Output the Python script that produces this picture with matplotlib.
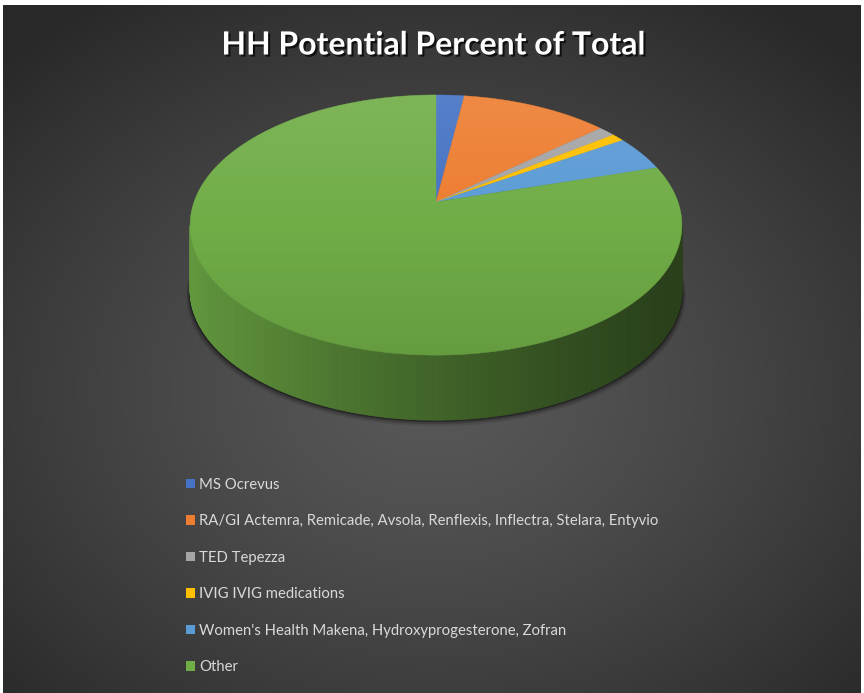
import numpy as np
import matplotlib
matplotlib.use('Agg')
import matplotlib.pyplot as plt
from matplotlib.patches import Polygon, Patch
import matplotlib.patheffects as pe
from matplotlib.colors import to_rgb

categories = ["MS Ocrevus",
              "RA/GI Actemra, Remicade, Avsola, Renflexis, Inflectra, Stelara, Entyvio",
              "TED Tepezza",
              "IVIG IVIG medications",
              "Women's Health Makena, Hydroxyprogesterone, Zofran",
              "Other"]
values = [2.2, 11.5, 1.3, 1.0, 4.4, 79.6]
colors = ["#4472C4", "#ED7D31", "#A5A5A5", "#FFC000", "#5B9BD5", "#70AD47"]
title = "HH Potential Percent of Total"

W, H = 864, 693
fig = plt.figure(figsize=(W / 100, H / 100), dpi=100)
fig.patch.set_facecolor('white')
ax = fig.add_axes([0, 0, 1, 1])
ax.set_xlim(0, W)
ax.set_ylim(H, 0)
ax.axis('off')

# ---- background radial gradient
L, R, T, Bm = 3, 861, 5, 693
yy, xx = np.mgrid[T:Bm, L:R]
rr = np.sqrt(((xx - 432) / 600.0) ** 2 + ((yy - 390) / 470.0) ** 2)
rr = np.clip(rr, 0, 1)
g = 0.345 + (0.16 - 0.345) * rr ** 1.3
ax.imshow(np.dstack([g, g, g]), extent=(L, R, Bm, T), origin='upper',
          aspect='auto', zorder=0, interpolation='bilinear')

# ---- 3D pie geometry (perspective projection of a tilted disk)
cx, cy = 436.0, 202.0
A, B, p = 242.0, 126.0, 0.177
depth = 65.0


def proj(t, dz=0.0):
    u, v = np.sin(t), np.cos(t)
    w = 1 + p * v
    return cx + A * u / w, cy - B * v / w + dz


vals = np.array(values, dtype=float)
frac = vals / vals.sum()
edges = np.concatenate([[0], np.cumsum(frac)]) * 2 * np.pi

# shadow under the pie
tt = np.linspace(0, 2 * np.pi, 400)
for k, a in [(6, 0.10), (4, 0.18), (2, 0.35)]:
    sx, sy = proj(tt, depth + k)
    sx = cx + (sx - cx) * (1 + k / 400.0)
    ax.add_patch(Polygon(np.column_stack([sx, sy]), closed=True,
                         facecolor='black', edgecolor='none', alpha=a, zorder=1))

# side walls
t_lo = np.arccos(-p)
t_hi = 2 * np.pi - t_lo
for i, col in enumerate(colors):
    a0, a1 = max(edges[i], t_lo), min(edges[i + 1], t_hi)
    if a1 <= a0:
        continue
    n = max(2, int((a1 - a0) / (2 * np.pi) * 600))
    ts = np.linspace(a0, a1, n + 1)
    base = np.array(to_rgb(col))
    for j in range(n):
        tq = np.array([ts[j], ts[j + 1]])
        x_top, y_top = proj(tq)
        x_bot, y_bot = proj(tq[::-1], depth)
        xm = (x_top.mean() - cx) / A
        f = 0.62 - 0.25 * np.clip(xm, -1, 1) - 0.04 * (1 - xm ** 2)
        c = np.clip(base * f, 0, 1)
        poly = np.column_stack([np.concatenate([x_top, x_bot]),
                                np.concatenate([y_top, y_bot])])
        ax.add_patch(Polygon(poly, closed=True, facecolor=c, edgecolor=c,
                             linewidth=0.6, zorder=2))

# top face
for i, col in enumerate(colors):
    ts = np.linspace(edges[i], edges[i + 1], max(3, int(frac[i] * 600)))
    x, y = proj(ts)
    poly = np.column_stack([np.concatenate([[cx], x]), np.concatenate([[cy], y])])
    ax.add_patch(Polygon(poly, closed=True, facecolor=col, edgecolor=col,
                         linewidth=0.3, zorder=3))

# subtle lighting on top face
ex, ey = proj(tt)
clip = Polygon(np.column_stack([ex, ey]), closed=True, facecolor='none',
               edgecolor='none', transform=ax.transData)
ax.add_patch(clip)
grad = np.linspace(0, 1, 256)[:, None]
ov = np.zeros((256, 2, 4))
ov[..., :3] = np.where(grad[..., None] < 0.5, 1.0, 0.0)
ov[..., 3] = (np.abs(grad - 0.5) * 2 * 0.10)
im = ax.imshow(ov, extent=(ex.min(), ex.max(), ey.max(), ey.min()),
               origin='upper', aspect='auto', zorder=4, interpolation='bilinear')
im.set_clip_path(clip)

# title
ax.text(434, 45, title, ha='center', va='center', color='white',
        fontsize=23, fontweight='bold', family='Lato', zorder=6,
        path_effects=[pe.SimplePatchShadow(offset=(1.5, -1.5), shadow_rgbFace='black',
                                           alpha=0.7), pe.Normal()])

# legend
handles = [Patch(facecolor=c, edgecolor='none') for c in colors]
leg = ax.legend(handles, categories, loc='upper left',
                bbox_to_anchor=(180 / W, 1 - 472 / H), frameon=False,
                labelcolor='#d9d9d9',
                prop={'family': 'Lato', 'size': 10.7},
                handlelength=0.6, handleheight=0.6, handletextpad=0.3,
                labelspacing=1.51, borderaxespad=0)
leg.set_zorder(6)

fig.savefig('out.png', dpi=100, facecolor=fig.get_facecolor())
